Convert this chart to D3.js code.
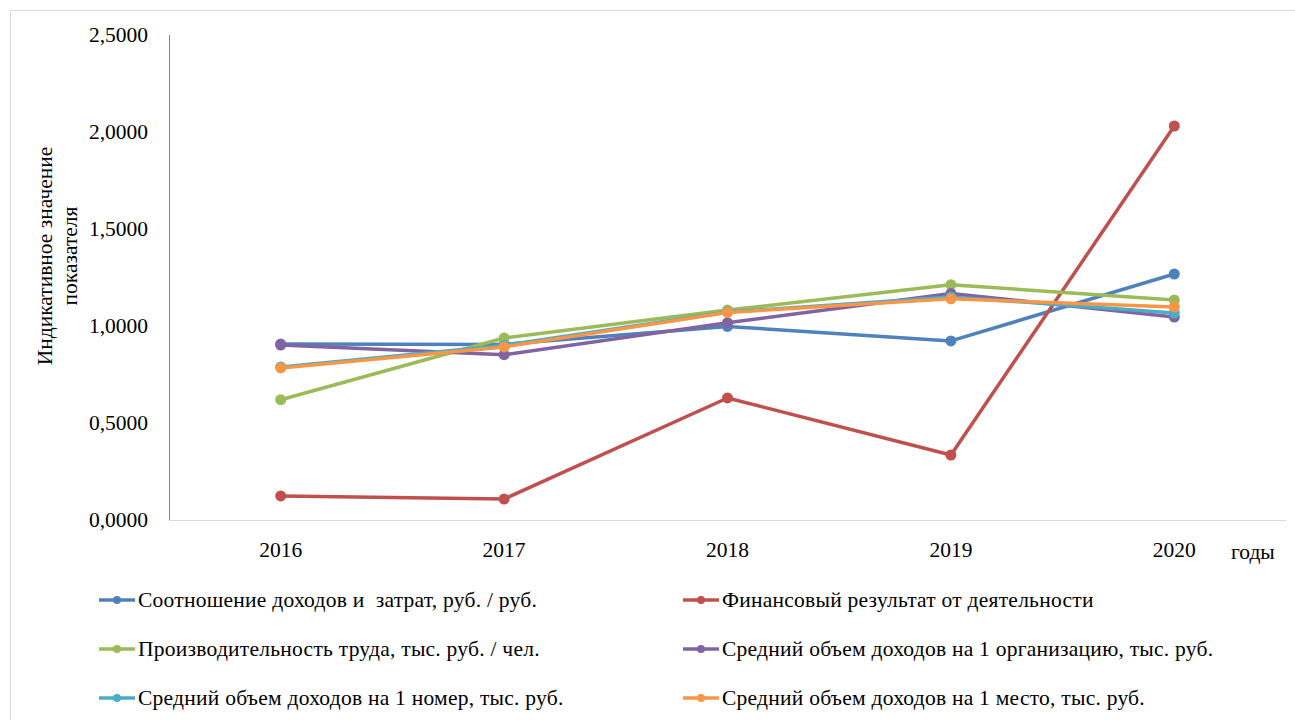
<!DOCTYPE html>
<html>
<head>
<meta charset="utf-8">
<script src="https://cdn.jsdelivr.net/npm/d3@7"></script>
<style>
  body { margin: 0; background: #fff; }
  svg text { font-family: 'Liberation Serif', 'DejaVu Serif', 'Times New Roman', serif; fill: #000; }
</style>
</head>
<body>
<div id="chart"></div>
<script>
// chart data
const years = ["2016", "2017", "2018", "2019", "2020"];
const seriesNames = [
  "Соотношение доходов и  затрат, руб. / руб.",
  "Финансовый результат от деятельности",
  "Производительность труда, тыс. руб. / чел.",
  "Средний объем доходов на 1 организацию, тыс. руб.",
  "Средний объем доходов на 1 номер, тыс. руб.",
  "Средний объем доходов на 1 место, тыс. руб."
];
const ratioValues   = [0.907, 0.905, 0.998, 0.923, 1.268];
const finValues     = [0.124, 0.108, 0.629, 0.335, 2.031];
const laborValues   = [0.620, 0.938, 1.082, 1.213, 1.134];
const orgValues     = [0.902, 0.852, 1.017, 1.168, 1.046];
const roomValues    = [0.789, 0.900, 1.072, 1.150, 1.067];
const placeValues   = [0.784, 0.892, 1.070, 1.140, 1.098];
const yTicks = [0, 0.5, 1, 1.5, 2, 2.5];

const colors = ["#4F81BD", "#C0504D", "#9BBB59", "#8064A2", "#4BACC6", "#F79646"];
const allValues = [ratioValues, finValues, laborValues, orgValues, roomValues, placeValues];

const W = 1295, H = 720;
const FONT = "'Liberation Serif', 'DejaVu Serif', serif";
const FS = "21.5px";

let svg = d3.select("#chart").append("svg")
  .attr("width", W)
  .attr("height", H)
  .attr("font-family", FONT);

// outer chart border
svg.append("rect")
  .attr("x", 10.5).attr("y", 10.5)
  .attr("width", W).attr("height", H)
  .attr("fill", "none")
  .attr("stroke", "#d9d9d9");

let x = d3.scaleBand()
  .domain(years)
  .range([169, 1286]);

let y = d3.scaleLinear()
  .domain([0, 2.5])
  .range([520, 35]);

// y tick labels
svg.append("g")
  .selectAll("text")
  .data(yTicks)
  .enter()
  .append("text")
  .attr("x", 148)
  .attr("y", d => y(d) + 7)
  .style("text-anchor", "end")
  .style("font-size", FS)
  .text(d => d3.format(".4f")(d).replace(".", ","));

// y axis line
svg.append("line")
  .attr("x1", 169.5).attr("x2", 169.5)
  .attr("y1", y(2.5)).attr("y2", y(0))
  .attr("stroke", "#868686");

// x axis line
svg.append("line")
  .attr("x1", 169).attr("x2", 1286)
  .attr("y1", y(0) + 0.5).attr("y2", y(0) + 0.5)
  .attr("stroke", "#d9d9d9");

// x tick labels
svg.append("g")
  .selectAll("text")
  .data(years)
  .enter()
  .append("text")
  .attr("x", d => x(d) + x.bandwidth() / 2)
  .attr("y", 557)
  .style("text-anchor", "middle")
  .style("font-size", FS)
  .text(d => d);

svg.append("text")
  .attr("x", 1231).attr("y", 559)
  .style("font-size", FS)
  .text("годы");

// y axis title
let yTitle = svg.append("text")
  .attr("transform", "translate(52, 256) rotate(-90)")
  .style("text-anchor", "middle")
  .style("font-size", FS);
yTitle.append("tspan").attr("x", 0).attr("dy", 0).text("Индикативное значение");
yTitle.append("tspan").attr("x", 0).attr("dy", 25).text("показателя");

// lines and markers
let line = d3.line()
  .x((d, i) => x(years[i]) + x.bandwidth() / 2)
  .y(d => y(d));

allValues.forEach(function(vals, s) {
  let g = svg.append("g");
  g.append("path")
    .datum(vals)
    .attr("d", line)
    .attr("fill", "none")
    .attr("stroke", colors[s])
    .attr("stroke-width", 3.5)
    .attr("stroke-linejoin", "round");
  g.selectAll("circle")
    .data(vals)
    .enter()
    .append("circle")
    .attr("cx", (d, i) => x(years[i]) + x.bandwidth() / 2)
    .attr("cy", d => y(d))
    .attr("r", 5.5)
    .attr("fill", colors[s]);
});

// legend
let legend = svg.append("g");
seriesNames.forEach(function(name, i) {
  let col = i % 2, row = Math.floor(i / 2);
  let lx = col === 0 ? 99 : 683;
  let ly = 600 + row * 49;
  let item = legend.append("g").attr("transform", `translate(${lx}, ${ly})`);
  item.append("line")
    .attr("x1", 0).attr("x2", 36)
    .attr("y1", 0).attr("y2", 0)
    .attr("stroke", colors[i])
    .attr("stroke-width", 3.5);
  item.append("circle")
    .attr("cx", 18).attr("cy", 0).attr("r", 4)
    .attr("fill", colors[i]);
  item.append("text")
    .attr("x", 39).attr("y", 7)
    .style("font-size", FS)
    .style("letter-spacing", "0.25px")
    .style("white-space", "pre")
    .text(name);
});
</script>
</body>
</html>
